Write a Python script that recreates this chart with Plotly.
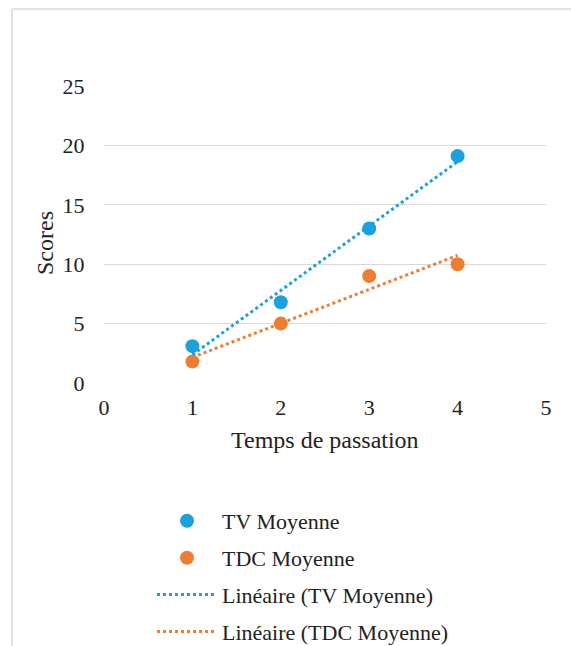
import numpy as np
import plotly.graph_objects as go

temps = [1, 2, 3, 4]
tv_moyenne = [3.1, 6.8, 13.0, 19.1]
tdc_moyenne = [1.8, 5.0, 9.0, 10.0]
x_ticks = [0, 1, 2, 3, 4, 5]
y_ticks = [0, 5, 10, 15, 20, 25]

BLUE = "#1BA1DB"
ORANGE = "#ED7D31"
FONT = "Liberation Serif"
TXT = "#222222"

def linfit(x, y):
    a, b = np.polyfit(x, y, 1)
    return [a * xi + b for xi in x]

fig = go.Figure()
fig.add_trace(go.Scatter(x=temps, y=tv_moyenne, mode="markers", name="TV Moyenne",
                         marker=dict(color=BLUE, size=14), legendgroup="a"))
fig.add_trace(go.Scatter(x=temps, y=tdc_moyenne, mode="markers", name="TDC Moyenne",
                         marker=dict(color=ORANGE, size=14), legendgroup="b"))
fig.add_trace(go.Scatter(x=temps, y=linfit(temps, tv_moyenne), mode="lines",
                         name="Linéaire (TV Moyenne)",
                         line=dict(color=BLUE, width=3, dash="dot"), legendgroup="c"))
fig.add_trace(go.Scatter(x=temps, y=linfit(temps, tdc_moyenne), mode="lines",
                         name="Linéaire (TDC Moyenne)",
                         line=dict(color=ORANGE, width=3, dash="dot"), legendgroup="d"))

L, R, T, B = 104, 25, 86, 263
W, H = 571, 646
pw, ph = W - L - R, H - T - B

def px(x):
    return (x - L) / pw

def py(y):
    return (H - B - y) / ph

fig.update_layout(
    width=W, height=H,
    margin=dict(l=L, r=R, t=T, b=B, autoexpand=False),
    paper_bgcolor="white", plot_bgcolor="white",
    font=dict(family=FONT, size=21, color=TXT),
    showlegend=True,
    legend=dict(xref="container", yref="container", x=152 / W, y=1 - 500 / H,
                xanchor="left", yanchor="top", tracegroupgap=5.3,
                itemwidth=60, font=dict(size=22, family=FONT, color=TXT)),
    xaxis=dict(range=[0, 5], tickvals=x_ticks, showgrid=False, zeroline=False,
               showline=False, ticks="outside", ticklen=5, tickcolor="rgba(0,0,0,0)",
               tickfont=dict(size=22)),
    yaxis=dict(range=[0, 25], tickvals=y_ticks, showgrid=True, gridcolor="#D9D9D9",
               gridwidth=1, zeroline=False, showline=False, ticks="outside",
               ticklen=14, tickcolor="rgba(0,0,0,0)", tickfont=dict(size=22)),
    annotations=[
        dict(text="Temps de passation", xref="paper", yref="paper",
             x=px(325), y=py(440), xanchor="center", yanchor="middle",
             showarrow=False, font=dict(size=24, family=FONT, color=TXT)),
        dict(text="Scores", xref="paper", yref="paper", textangle=-90,
             x=px(45), y=py(243), xanchor="center", yanchor="middle",
             showarrow=False, font=dict(size=24, family=FONT, color=TXT)),
    ],
    shapes=[
        dict(type="line", xref="paper", yref="paper", x0=px(12), x1=px(12),
             y0=py(9), y1=py(H + 5), line=dict(color="#E3E3E3", width=2)),
        dict(type="line", xref="paper", yref="paper", x0=px(12), x1=px(W + 5),
             y0=py(9), y1=py(9), line=dict(color="#E3E3E3", width=2)),
    ],
)

fig.write_html("out.html", config={"displayModeBar": False},
               post_script="document.body.style.margin='0px';document.body.style.overflow='hidden';")
